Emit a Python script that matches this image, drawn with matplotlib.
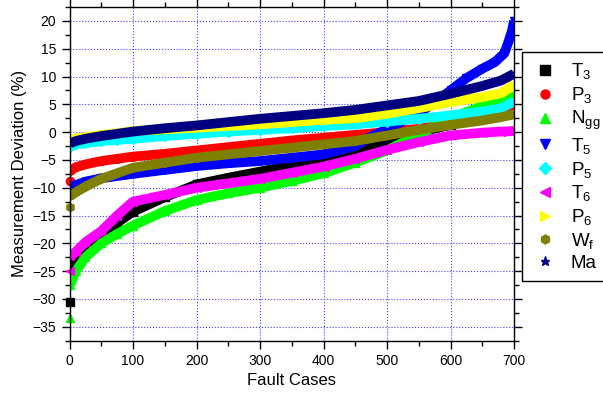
import matplotlib
matplotlib.use('Agg')
import matplotlib.pyplot as plt
from matplotlib.lines import Line2D
from matplotlib.ticker import MultipleLocator

plt.rcParams['font.family'] = ['Liberation Sans', 'DejaVu Sans']
plt.rcParams['mathtext.default'] = 'regular'

# sorted deviation curves at selected fault cases
cases = [1, 10, 25, 50, 75, 100, 150, 200, 250, 300, 350, 400, 450, 500, 550, 600, 650, 680, 700]
t3 = [-24.5, -22.5, -21.3, -19.0, -16.3, -14.3, -11.7, -9.4, -8.2, -7.1, -6.0, -5.0, -3.3, -1.6, 0.0, 1.3, 3.0, 4.3, 5.0]
p3 = [-7.0, -6.3, -5.8, -5.2, -4.8, -4.4, -3.9, -3.3, -2.7, -2.1, -1.5, -1.0, -0.5, 0.0, 0.6, 1.5, 2.8, 4.2, 4.9]
ngg = [-27.5, -25.0, -22.5, -20.0, -18.3, -16.8, -14.2, -12.2, -11.0, -10.0, -8.8, -7.4, -5.5, -3.3, -0.4, 2.5, 4.7, 5.6, 6.6]
p5 = [-2.6, -2.2, -2.0, -1.6, -1.4, -1.2, -0.7, -0.3, 0.1, 0.4, 0.7, 1.1, 1.4, 1.9, 2.4, 3.0, 3.7, 4.3, 5.5]
t6 = [-22.3, -21.5, -19.8, -17.8, -15.0, -12.5, -11.3, -10.0, -9.2, -8.4, -7.3, -6.2, -4.8, -3.2, -1.8, -0.6, -0.1, 0.1, 0.2]
p6 = [-1.4, -1.2, -0.9, -0.5, -0.2, 0.2, 0.5, 0.8, 1.1, 1.4, 1.8, 2.2, 2.5, 3.3, 4.3, 5.4, 6.3, 7.0, 8.5]
wf = [-11.5, -10.8, -9.8, -8.4, -7.4, -6.4, -5.5, -4.6, -4.0, -3.4, -2.8, -2.2, -1.6, -0.6, 0.4, 1.3, 2.1, 2.7, 3.2]
ma = [-2.0, -1.6, -1.2, -0.7, -0.3, 0.1, 0.7, 1.2, 1.8, 2.4, 2.9, 3.4, 4.0, 4.8, 5.6, 6.9, 8.3, 9.3, 10.5]

# T5 has a steep tail, so it gets its own case list
cases_t5 = [1, 10, 25, 50, 100, 150, 200, 250, 300, 350, 400, 450, 475, 500, 525, 550, 575, 600, 625, 650, 670, 685, 692, 697, 700]
t5 = [-10.2, -9.5, -8.9, -8.3, -7.5, -6.8, -6.1, -5.6, -5.2, -4.6, -4.0, -2.5, -0.8, 0.5, 2.0, 3.4, 5.3, 7.5, 9.7, 11.4, 12.6, 14.2, 16.5, 18.3, 20.0]

# isolated first cases (case 0)
first = {'T3': -30.5, 'P3': -8.7, 'Ngg': -33.5, 'T6': -25.0, 'Wf': -13.5}

labels = ['$T_3$', '$P_3$', '$N_{gg}$', '$T_5$', '$P_5$', '$T_6$', '$P_6$', '$W_f$', 'Ma']
keys = ['T3', 'P3', 'Ngg', 'T5', 'P5', 'T6', 'P6', 'Wf', 'Ma']
colors = ['#000000', '#ff0000', '#00ff00', '#0000ff', '#00ffff', '#ff00ff', '#ffff00', '#808000', '#000080']
markers = ['s', 'o', '^', 'v', 'D', '<', '>', 'h', '*']
series = [t3, p3, ngg, t5, p5, t6, p6, wf, ma]

fig = plt.figure(figsize=(6.03, 3.95), dpi=100)
ax = fig.add_axes([0.1153, 0.1375, 0.7371, 0.8448])

for k, vals, c, m in zip(keys, series, colors, markers):
    xs = cases_t5 if k == 'T5' else cases
    ax.plot(xs, vals, '-', color=c, lw=7, marker=m, ms=5.5, mec=c,
            solid_joinstyle='round', solid_capstyle='butt')
    if k in first:
        ax.plot([0], [first[k]], ls='none', marker=m, ms=6, color=c, clip_on=False)

ax.set_xlim(0, 700)
ax.set_ylim(-37.5, 22.5)
ax.xaxis.set_major_locator(MultipleLocator(100))
ax.xaxis.set_minor_locator(MultipleLocator(50))
ax.yaxis.set_major_locator(MultipleLocator(5))
ax.yaxis.set_minor_locator(MultipleLocator(2.5))
ax.tick_params(which='both', direction='out', top=True, right=True, labelsize=10, width=1)
ax.tick_params(which='major', length=6)
ax.tick_params(which='minor', length=3.5)
ax.grid(True, which='major', color='#4040ff', ls=':', lw=0.8)
ax.set_axisbelow(True)
for s in ax.spines.values():
    s.set_linewidth(1)

ax.set_xlabel('Fault Cases', fontsize=12)
ax.set_ylabel('Measurement Deviation (%)', fontsize=12)

handles = [Line2D([], [], ls='none', marker=m, color=c, ms=6.5) for m, c in zip(markers, colors)]
leg = fig.legend(handles, labels, loc='upper left', bbox_to_anchor=(522 / 603, 1 - 52 / 395),
                 bbox_transform=fig.transFigure, borderaxespad=0, fontsize=13.5,
                 fancybox=False, framealpha=1, edgecolor='black', borderpad=0.5,
                 handlelength=1.4, handletextpad=0.7, labelspacing=0.2)
leg.get_frame().set_linewidth(1)

fig.savefig('out.png', dpi=100)
